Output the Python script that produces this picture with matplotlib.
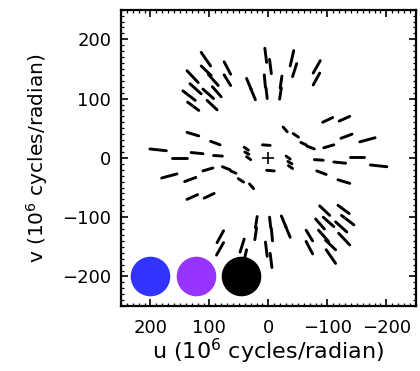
import numpy as np
import matplotlib.pyplot as plt
from matplotlib.collections import LineCollection

# uv tracks (10^6 cycles/radian); each row is one spectral segment,
# only one half is listed, the conjugate points (-u, -v) are added below
seg_u1 = [114, 114, 102, 75, 75, 138, 133, 145, 111, 95, 137, 104,
          37, 30, 6, -2, -43, -48, -88, -87, 7, 4, -23, -22,
          201, 138, 163, 131, 98, 93, 181, 142, 111, 138, 109, 78,
          64, 51, 32, 41, 40, 37, 10]
seg_v1 = [178, 155, 141, 162, 140, 147, 125, 113, 116, 120, 94, 97,
          134, 117, 185, 166, 181, 159, 164, 143, 140, 118, 138, 118,
          15, 43, -1, 9, 28, 4, -34, -40, -22, -70, -68, -15,
          -22, -35, -44, 18, 10, 2, 22]
seg_u2 = [98, 97, 85, 64, 64, 119, 114, 124, 93, 80, 118, 87,
          29, 22, 3, -5, -37, -41, -76, -76, 5, 2, -20, -19,
          173, 118, 138, 111, 82, 78, 155, 123, 94, 120, 92, 65,
          55, 42, 25, 34, 33, 30, -3]
seg_v2 = [155, 139, 122, 141, 122, 127, 108, 97, 100, 103, 80, 81,
          115, 98, 161, 142, 155, 137, 143, 123, 119, 100, 118, 99,
          12, 37, -1, 7, 22, 3, -27, -33, -17, -62, -60, -20,
          -26, -41, -52, 13, 6, -3, 21]

# colour key dots
dot_u = [200, 123, 47]
dot_v = [-200, -200, -200]
dot_colors = ['#3333ff', '#9933ff', '#000000']

u1 = np.array(seg_u1, float)
v1 = np.array(seg_v1, float)
u2 = np.array(seg_u2, float)
v2 = np.array(seg_v2, float)

segs = [[(a, b), (c, d)] for a, b, c, d in zip(u1, v1, u2, v2)]
segs += [[(-a, -b), (-c, -d)] for a, b, c, d in zip(u1, v1, u2, v2)]

plt.rcParams['font.family'] = ['DejaVu Sans']

fig = plt.figure(figsize=(4.2, 3.71), dpi=100)
ax = fig.add_axes([0.288, 0.175, 0.702, 0.799])

lc = LineCollection(segs, colors='black', linewidths=2.1, capstyle='round')
ax.add_collection(lc)

ax.plot([0], [0], marker='+', color='black', markersize=9, mew=1.2)

for x, y, c in zip(dot_u, dot_v, dot_colors):
    ax.plot([x], [y], 'o', color=c, markersize=27.5, zorder=5)

ax.set_xlim(250, -250)
ax.set_ylim(-250, 250)
ax.set_xticks([200, 100, 0, -100, -200])
ax.set_yticks([200, 100, 0, -100, -200])
ax.set_xticklabels(['200', '100', '0', '\u2212100', '\u2212200'])
ax.set_yticklabels(['200', '100', '0', '\u2212100', '\u2212200'])
ax.minorticks_on()
ax.xaxis.set_minor_locator(plt.MultipleLocator(10))
ax.yaxis.set_minor_locator(plt.MultipleLocator(10))
ax.tick_params(which='both', direction='in', top=True, right=True,
               labelsize=13, color='black')
ax.tick_params(which='major', length=5, width=1.2)
ax.tick_params(axis='x', which='major', pad=9)
ax.tick_params(axis='y', which='major', pad=7)
ax.tick_params(which='minor', length=2.5, width=0.9)
for s in ax.spines.values():
    s.set_linewidth(1.6)

ax.set_xlabel('u (10$^6$ cycles/radian)', fontsize=16, labelpad=0)
ax.set_ylabel('v (10$^6$ cycles/radian)', fontsize=14.5, labelpad=9)

fig.savefig('out.png', dpi=100)
